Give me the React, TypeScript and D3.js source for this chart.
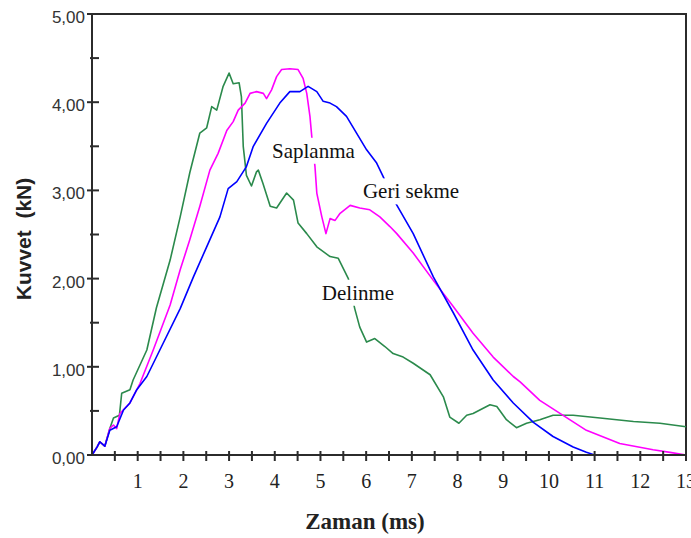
import React, { useEffect, useRef } from 'react';
import * as d3 from 'd3';

// force-time curves: [time (ms), force (kN)]
const delinme: [number, number][] = [
  [0, 0], [0.11, 0.09], [0.17, 0.15], [0.28, 0.1], [0.39, 0.3], [0.47, 0.42], [0.6, 0.45], [0.65, 0.7],
  [0.83, 0.74], [0.9, 0.85], [1.2, 1.19], [1.41, 1.67], [1.71, 2.21], [1.93, 2.7], [2.14, 3.2], [2.36, 3.65],
  [2.51, 3.71], [2.62, 3.95], [2.73, 3.91], [2.87, 4.18], [3.0, 4.33], [3.09, 4.21], [3.22, 4.22], [3.27, 4.06],
  [3.31, 3.5], [3.38, 3.17], [3.49, 3.05], [3.6, 3.21], [3.64, 3.23], [3.74, 3.08], [3.9, 2.82], [4.04, 2.8],
  [4.26, 2.97], [4.41, 2.89], [4.51, 2.63], [4.7, 2.51], [4.92, 2.36], [5.21, 2.25], [5.39, 2.23], [5.61, 2.0],
  [5.75, 1.66], [5.86, 1.45], [6.01, 1.28], [6.19, 1.32], [6.41, 1.23], [6.59, 1.15], [6.81, 1.11], [7.03, 1.04],
  [7.4, 0.91], [7.69, 0.66], [7.83, 0.43], [8.03, 0.36], [8.2, 0.45], [8.34, 0.47], [8.71, 0.57], [8.86, 0.55],
  [9.07, 0.4], [9.29, 0.31], [9.51, 0.36], [9.8, 0.4], [10.09, 0.45], [10.53, 0.45], [11.12, 0.42], [11.85, 0.38],
  [12.43, 0.36], [13.0, 0.32],
];

const saplanma: [number, number][] = [
  [0, 0], [0.11, 0.09], [0.17, 0.15], [0.28, 0.1], [0.39, 0.3], [0.47, 0.34], [0.54, 0.3], [0.61, 0.47],
  [0.83, 0.59], [1.05, 0.81], [1.34, 1.19], [1.71, 1.7], [1.93, 2.1], [2.14, 2.44], [2.36, 2.82], [2.58, 3.23],
  [2.76, 3.42], [2.95, 3.68], [3.09, 3.78], [3.2, 3.91], [3.35, 3.99], [3.46, 4.1], [3.6, 4.12], [3.75, 4.1],
  [3.82, 4.04], [3.93, 4.14], [4.04, 4.29], [4.15, 4.37], [4.33, 4.38], [4.51, 4.37], [4.62, 4.27], [4.7, 4.1],
  [4.77, 3.84], [4.81, 3.61], [4.88, 3.27], [4.92, 2.97], [5.03, 2.7], [5.12, 2.51], [5.21, 2.68], [5.32, 2.66],
  [5.43, 2.74], [5.65, 2.83], [5.86, 2.8], [6.08, 2.78], [6.3, 2.7], [6.52, 2.59], [6.67, 2.51], [7.03, 2.29],
  [7.47, 1.98], [7.91, 1.68], [8.34, 1.38], [8.78, 1.11], [9.22, 0.89], [9.37, 0.83], [9.8, 0.62], [10.31, 0.45],
  [10.82, 0.28], [11.55, 0.13], [12.28, 0.06], [12.65, 0.03], [13.0, 0.0],
];

const geriSekme: [number, number][] = [
  [0, 0], [0.11, 0.09], [0.17, 0.15], [0.28, 0.1], [0.39, 0.28], [0.54, 0.32], [0.69, 0.51], [0.83, 0.59],
  [0.98, 0.74], [1.2, 0.89], [1.56, 1.27], [1.93, 1.66], [2.22, 2.02], [2.51, 2.36], [2.8, 2.7], [2.98, 3.02],
  [3.17, 3.1], [3.38, 3.27], [3.53, 3.5], [3.82, 3.76], [4.11, 3.99], [4.33, 4.12], [4.55, 4.12], [4.73, 4.18],
  [4.92, 4.12], [5.06, 4.01], [5.21, 3.99], [5.35, 3.95], [5.57, 3.84], [5.79, 3.65], [6.01, 3.46], [6.23, 3.31],
  [6.37, 3.16], [6.63, 2.87], [7.03, 2.51], [7.47, 2.02], [7.91, 1.61], [8.34, 1.19], [8.78, 0.85], [9.22, 0.59],
  [9.66, 0.37], [10.09, 0.21], [10.53, 0.09], [10.82, 0.03], [11.0, 0.0],
];

const series = [
  { data: delinme, color: '#2b8a4c' },
  { data: saplanma, color: '#ff00ff' },
  { data: geriSekme, color: '#0000ff' },
];

// curve names, anchored at (time, force) of the text start / baseline
const annotations = [
  { text: 'Saplanma', t: 3.94, f: 3.37 },
  { text: 'Geri sekme', t: 5.93, f: 2.91 },
  { text: 'Delinme', t: 5.03, f: 1.76 },
];

const xLabels = [1, 2, 3, 4, 5, 6, 7, 8, 9, 10, 11, 12, 13];
const yLabels = [0, 1, 2, 3, 4, 5];

const width = 691;
const height = 538;

export default function App() {
  const ref = useRef<SVGSVGElement>(null);

  useEffect(() => {
    const svg = d3.select(ref.current);
    svg.selectAll('*').remove();

    const x = d3.scaleLinear().domain([0, 13]).range([92, 686]);
    const y = d3.scaleLinear().domain([0, 5]).range([455, 14]);
    const axisColor = '#2b2b2b';

    // frame top + right
    svg.append('path')
      .attr('d', `M${x(0)},${y(5)}H${x(13)}V${y(0)}`)
      .attr('fill', 'none').attr('stroke', axisColor).attr('stroke-width', 2);

    // curves
    const line = d3.line<[number, number]>().x(d => x(d[0])).y(d => y(d[1]));
    series.forEach(s => {
      svg.append('path')
        .attr('d', line(s.data) as string)
        .attr('fill', 'none')
        .attr('stroke', s.color)
        .attr('stroke-width', 1.6)
        .attr('stroke-linejoin', 'round');
    });

    // labels on white boxes (they cut the lines like in the original)
    annotations.forEach(a => {
      const g = svg.append('g');
      const txt = g.append('text')
        .attr('x', x(a.t)).attr('y', y(a.f))
        .attr('font-family', '"Liberation Serif", "Times New Roman", serif')
        .attr('font-size', 21)
        .attr('fill', '#111')
        .text(a.text);
      const bb = (txt.node() as SVGTextElement).getBBox();
      g.insert('rect', 'text')
        .attr('x', bb.x - 2).attr('y', bb.y - 1)
        .attr('width', bb.width + 4).attr('height', bb.height + 2)
        .attr('fill', 'white');
    });

    // y axis
    svg.append('line')
      .attr('x1', x(0)).attr('x2', x(0)).attr('y1', y(0)).attr('y2', y(5))
      .attr('stroke', axisColor).attr('stroke-width', 2);
    d3.range(0, 5.01, 0.5).forEach(v => {
      const major = Number.isInteger(v);
      svg.append('line')
        .attr('x1', x(0) - (major ? 5 : 2)).attr('x2', x(0) + 7)
        .attr('y1', y(v)).attr('y2', y(v))
        .attr('stroke', axisColor).attr('stroke-width', 2);
    });
    svg.selectAll('text.ylab').data(yLabels).enter().append('text')
      .attr('class', 'ylab')
      .attr('x', 85).attr('y', d => y(d) + 9)
      .attr('text-anchor', 'end')
      .attr('font-family', '"Liberation Sans", Arial, sans-serif')
      .attr('font-size', 17)
      .attr('fill', '#333')
      .text(d => d3.format('.2f')(d).replace('.', ','));

    // x axis
    svg.append('line')
      .attr('x1', x(0)).attr('x2', x(13)).attr('y1', y(0)).attr('y2', y(0))
      .attr('stroke', axisColor).attr('stroke-width', 2);
    d3.range(0.5, 13.01, 0.5).forEach(v => {
      svg.append('line')
        .attr('x1', x(v)).attr('x2', x(v))
        .attr('y1', y(0) - 4).attr('y2', y(0) + 6)
        .attr('stroke', axisColor).attr('stroke-width', 2);
    });
    svg.selectAll('text.xlab').data(xLabels).enter().append('text')
      .attr('class', 'xlab')
      .attr('x', d => x(d)).attr('y', 488)
      .attr('text-anchor', 'middle')
      .attr('font-family', '"Liberation Serif", "Times New Roman", serif')
      .attr('font-size', 20)
      .attr('fill', '#222')
      .text(d => d);

    // axis titles
    svg.append('text')
      .attr('x', 365).attr('y', 529)
      .attr('text-anchor', 'middle')
      .attr('font-family', '"Liberation Serif", "Times New Roman", serif')
      .attr('font-size', 23).attr('font-weight', 'bold')
      .attr('fill', '#222')
      .text('Zaman (ms)');
    svg.append('text')
      .attr('transform', 'translate(31,239) rotate(-90)')
      .attr('text-anchor', 'middle')
      .attr('font-family', '"Liberation Sans", Arial, sans-serif')
      .attr('font-size', 21).attr('font-weight', 'bold')
      .attr('fill', '#222')
      .style('white-space', 'pre')
      .text('Kuvvet  (kN)');
  }, []);

  return (
    <svg
      ref={ref}
      width={width}
      height={height}
      viewBox={`0 0 ${width} ${height}`}
      style={{ position: 'absolute', left: 0, top: 0, background: 'white' }}
    />
  );
}
